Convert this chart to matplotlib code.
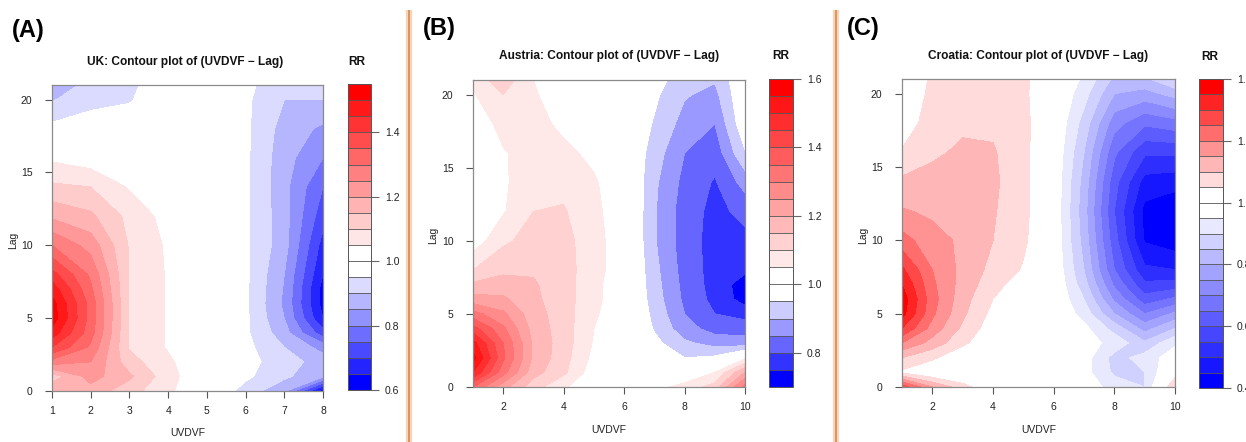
import numpy as np
import matplotlib
matplotlib.use("Agg")
import matplotlib.pyplot as plt
from matplotlib.lines import Line2D

plt.rcParams['font.family'] = ['Liberation Sans', 'DejaVu Sans']

W, H = 1246, 442

# ---------------- data ----------------
lags = [0, 1, 2, 3, 4, 5, 6, 7, 8, 10, 12, 14, 16, 18, 20, 21]

# UK: one row per UVDVF value, entries follow `lags`
uk_uvdvf = [1, 2, 3, 4, 5, 6, 7, 8]
uk_rr = [
    [1.20, 1.12, 1.28, 1.40, 1.48, 1.53, 1.52, 1.48, 1.42, 1.30, 1.19, 1.11, 1.04, 0.965, 0.895, 0.87],
    [1.18, 1.22, 1.25, 1.29, 1.32, 1.33, 1.33, 1.31, 1.29, 1.23, 1.16, 1.10, 1.02, 0.975, 0.935, 0.915],
    [1.12, 1.16, 1.12, 1.095, 1.095, 1.095, 1.095, 1.095, 1.095, 1.095, 1.085, 1.045, 1.0, 0.97, 0.947, 0.945],
    [1.06, 1.07, 1.06, 1.045, 1.045, 1.045, 1.045, 1.045, 1.045, 1.042, 1.03, 1.01, 1.0, 0.99, 0.975, 0.965],
    [1.0, 1.0, 1.0, 1.0, 1.0, 1.0, 1.0, 1.0, 1.0, 1.0, 1.0, 1.0, 0.995, 0.99, 0.985, 0.98],
    [0.93, 0.96, 0.97, 0.965, 0.96, 0.96, 0.96, 0.96, 0.96, 0.96, 0.96, 0.96, 0.96, 0.96, 0.96, 0.965],
    [0.86, 0.91, 0.92, 0.90, 0.87, 0.85, 0.84, 0.845, 0.85, 0.87, 0.87, 0.865, 0.87, 0.88, 0.90, 0.91],
    [0.62, 0.86, 0.88, 0.83, 0.72, 0.65, 0.63, 0.63, 0.65, 0.68, 0.72, 0.75, 0.80, 0.84, 0.90, 0.92],
]
uk_levels = (0.60, 1.55)
uk_xticks = [1, 2, 3, 4, 5, 6, 7, 8]
uk_cbticks = [0.6, 0.8, 1.0, 1.2, 1.4]

# Austria
at_uvdvf = [1, 2, 3, 4, 5, 6, 7, 8, 9, 10]
at_rr = [
    [1.35, 1.50, 1.57, 1.52, 1.42, 1.32, 1.22, 1.16, 1.10, 1.02, 0.99, 0.98, 0.99, 1.01, 1.045, 1.07],
    [1.22, 1.32, 1.36, 1.35, 1.31, 1.26, 1.21, 1.17, 1.14, 1.09, 1.045, 1.04, 1.045, 1.07, 1.10, 1.13],
    [1.12, 1.17, 1.19, 1.19, 1.18, 1.17, 1.16, 1.155, 1.145, 1.12, 1.10, 1.09, 1.075, 1.065, 1.055, 1.05],
    [1.06, 1.11, 1.12, 1.125, 1.125, 1.125, 1.125, 1.125, 1.125, 1.12, 1.105, 1.085, 1.06, 1.04, 1.025, 1.02],
    [1.0, 1.02, 1.035, 1.045, 1.05, 1.055, 1.06, 1.06, 1.065, 1.065, 1.06, 1.055, 1.04, 1.03, 1.02, 1.015],
    [1.0, 1.0, 1.01, 1.02, 1.025, 1.025, 1.025, 1.025, 1.025, 1.025, 1.025, 1.02, 1.01, 1.0, 1.0, 0.995],
    [1.03, 1.0, 0.99, 0.965, 0.945, 0.935, 0.925, 0.92, 0.915, 0.905, 0.905, 0.91, 0.925, 0.945, 0.96, 0.965],
    [1.07, 1.0, 0.95, 0.91, 0.87, 0.85, 0.84, 0.835, 0.83, 0.825, 0.825, 0.835, 0.85, 0.88, 0.905, 0.93],
    [1.12, 1.05, 0.96, 0.88, 0.83, 0.80, 0.785, 0.78, 0.78, 0.78, 0.785, 0.795, 0.82, 0.85, 0.885, 0.905],
    [1.32, 1.20, 1.04, 0.87, 0.83, 0.78, 0.73, 0.725, 0.76, 0.785, 0.815, 0.87, 0.945, 0.99, 1.0, 1.0],
]
at_levels = (0.70, 1.60)
at_xticks = [2, 4, 6, 8, 10]
at_cbticks = [0.8, 1.0, 1.2, 1.4, 1.6]

# Croatia
hr_uvdvf = [1, 2, 3, 4, 5, 6, 7, 8, 9, 10]
hr_rr = [
    [1.28, 1.04, 1.10, 1.20, 1.30, 1.37, 1.38, 1.35, 1.31, 1.22, 1.155, 1.11, 1.055, 1.02, 1.0, 0.995],
    [1.15, 1.0, 1.06, 1.13, 1.18, 1.21, 1.22, 1.21, 1.20, 1.17, 1.14, 1.12, 1.09, 1.075, 1.065, 1.06],
    [1.07, 0.99, 1.01, 1.06, 1.09, 1.11, 1.12, 1.13, 1.135, 1.14, 1.14, 1.135, 1.11, 1.09, 1.08, 1.075],
    [1.0, 0.99, 1.0, 1.01, 1.02, 1.035, 1.05, 1.07, 1.085, 1.10, 1.105, 1.11, 1.105, 1.09, 1.08, 1.075],
    [1.0, 1.0, 1.0, 1.0, 1.0, 1.0, 1.0, 1.02, 1.045, 1.06, 1.065, 1.065, 1.065, 1.065, 1.06, 1.06],
    [1.0, 1.0, 1.0, 1.0, 1.0, 1.0, 1.0, 1.0, 0.995, 0.99, 0.99, 0.99, 0.995, 1.0, 1.005, 1.01],
    [0.98, 0.97, 0.975, 0.97, 0.965, 0.93, 0.90, 0.87, 0.85, 0.83, 0.82, 0.83, 0.85, 0.88, 0.92, 0.94],
    [0.93, 0.89, 0.88, 0.935, 0.88, 0.80, 0.74, 0.69, 0.65, 0.62, 0.60, 0.62, 0.66, 0.72, 0.80, 0.84],
    [0.90, 0.90, 0.92, 0.86, 0.78, 0.70, 0.62, 0.56, 0.51, 0.445, 0.435, 0.48, 0.56, 0.66, 0.78, 0.84],
    [1.10, 1.02, 0.98, 0.94, 0.85, 0.76, 0.66, 0.57, 0.50, 0.42, 0.41, 0.47, 0.56, 0.68, 0.82, 0.90],
]
hr_levels = (0.40, 1.40)
hr_xticks = [2, 4, 6, 8, 10]
hr_cbticks = [0.4, 0.6, 0.8, 1.0, 1.2, 1.4]

titles = ["UK: Contour plot of (UVDVF \u2212 Lag)",
          "Austria: Contour plot of (UVDVF \u2212 Lag)",
          "Croatia: Contour plot of (UVDVF \u2212 Lag)"]
letters = ["(A)", "(B)", "(C)"]

# ---------------- helpers ----------------
def fbox(l, t, r, b):
    return [l / W, 1 - b / H, (r - l) / W, (b - t) / H]

def ramp(c0, c1, n):
    c0, c1 = np.array(c0, float), np.array(c1, float)
    if n == 1:
        return [tuple(c0)]
    return [tuple(c0 + (c1 - c0) * i / (n - 1)) for i in range(n)]

BLUE, WHITE, RED = (0, 0, 1), (1, 1, 1), (1, 0, 0)
TXT = '#222222'
AX = '#8a8a8a'

fig = plt.figure(figsize=(W / 100, H / 100), dpi=100)

def panel(x, rr, lev, xticks, cbticks, ax_px, cb_px, title, title_xy, rr_xy,
          letter, letter_xy, lag_xy, uv_y):
    levels = np.round(np.arange(lev[0], lev[1] + 1e-9, 0.05), 2)
    nb = int(np.sum(levels < 1 - 1e-9))
    na = int(np.sum(levels > 1 + 1e-9))
    colors = ramp(BLUE, WHITE, nb) + ramp(WHITE, RED, na)
    Z = np.array(rr, float).T  # rows = lags, cols = UVDVF
    ax = fig.add_axes(fbox(*ax_px))
    cs = ax.contourf(x, lags, Z, levels=levels, colors=colors)
    ax.set_xlim(x[0], x[-1])
    ax.set_ylim(0, 21)
    ax.set_xticks(xticks)
    ax.set_yticks([0, 5, 10, 15, 20])
    for s in ax.spines.values():
        s.set_color(AX)
        s.set_linewidth(0.9)
    ax.tick_params(axis='both', direction='out', length=5, width=0.8, color='#555555',
                   labelsize=7.5, labelcolor=TXT)
    ax.tick_params(axis='x', pad=6)
    ax.tick_params(axis='y', pad=9)
    # colorbar
    cax = fig.add_axes(fbox(*cb_px))
    cb = fig.colorbar(cs, cax=cax, ticks=cbticks, drawedges=True)
    cb.outline.set_edgecolor('#555555')
    cb.outline.set_linewidth(0.7)
    cb.dividers.set_color('#555555')
    cb.dividers.set_linewidth(0.6)
    cax.set_yticklabels([f"{t:.1f}" for t in cbticks])
    cax.tick_params(axis='y', direction='out', length=6, width=0.8, color='#666666',
                    labelsize=7.5, labelcolor=TXT, pad=4)
    # texts
    fig.text(title_xy[0] / W, 1 - title_xy[1] / H, title, ha='center', va='center',
             fontsize=8.6, fontweight='bold', color='#111111')
    fig.text(rr_xy[0] / W, 1 - rr_xy[1] / H, "RR", ha='center', va='center',
             fontsize=8.6, fontweight='bold', color='#111111')
    fig.text(letter_xy[0] / W, 1 - letter_xy[1] / H, letter, ha='left', va='center',
             fontsize=17, fontweight='bold', color='black')
    fig.text(lag_xy[0] / W, 1 - lag_xy[1] / H, "Lag", ha='center', va='center',
             rotation=90, fontsize=7.5, color=TXT)
    fig.text((ax_px[0] + ax_px[2]) / 2 / W, 1 - uv_y / H, "UVDVF", ha='center',
             va='center', fontsize=7.5, color=TXT)
    return ax

panel(uk_uvdvf, uk_rr, uk_levels, uk_xticks, uk_cbticks,
      (52, 85, 323, 391), (348, 84, 371, 390), titles[0], (185, 62), (357, 62),
      letters[0], (12, 30), (13, 240), 433)
panel(at_uvdvf, at_rr, at_levels, at_xticks, at_cbticks,
      (473, 80, 745, 387), (769, 79, 793, 387), titles[1], (609, 56), (781, 56),
      letters[1], (423, 28), (433, 235), 430)
panel(hr_uvdvf, hr_rr, hr_levels, hr_xticks, hr_cbticks,
      (902, 79, 1175, 387), (1199, 79, 1223, 388), titles[2], (1038, 56), (1210, 57),
      letters[2], (847, 28), (863, 235), 430)

# separators
for sx in (409, 836):
    fig.add_artist(Line2D([sx / W, sx / W], [0, 1 - 10 / H], color='#F7D3B8',
                          linewidth=4.5, solid_capstyle='butt'))
    fig.add_artist(Line2D([sx / W, sx / W], [0, 1 - 10 / H], color='#D98F5C',
                          linewidth=1.3, solid_capstyle='butt'))

fig.savefig("out.png", dpi=100)
